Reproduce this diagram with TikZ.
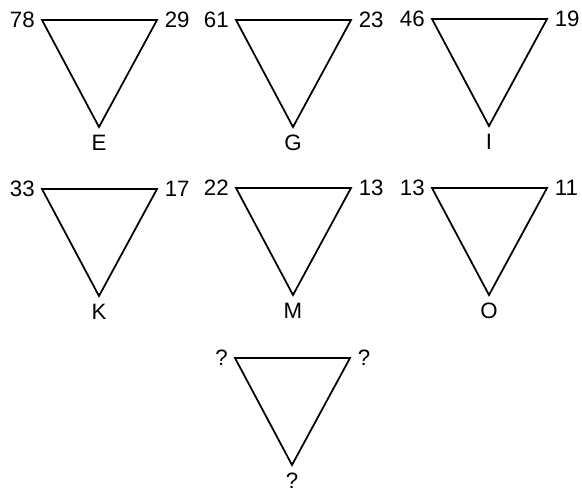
\documentclass[tikz,border=0pt]{standalone}
\usepackage{fontspec}
\setmainfont{Liberation Sans}
\usetikzlibrary{positioning}
\tikzset{
    % --- Triangle outline ---
    tri/.style = {
        draw, line width=1.5pt, line join=miter
    },
    % --- Number at a top corner ---
    corner/.style = {
        font=\fontsize{19}{22}\selectfont, inner sep=0pt
    },
    % --- Letter under the bottom corner ---
    letter/.style = {
        font=\fontsize{19}{22}\selectfont, inner sep=0pt
    }
}

\begin{document}
\begin{tikzpicture}[x=0.03cm, y=-0.03cm]

\useasboundingbox (0,0) rectangle (582,494);

% ---------------------------------------------------------
% Triangles: name / left x / top y / left no. / right no. / letter
% ---------------------------------------------------------
\foreach \tname/\px/\py/\lft/\rgt/\btm in {
    E/42/20/78/29/E, G/236/20/61/23/G, I/432/19/46/19/I,
    K/42/189/33/17/K, M/236/188/22/13/M, O/432/188/13/11/O,
    Q/235/358/?/?/?}
{
    \coordinate (\tname-l) at (\px, \py);
    \coordinate (\tname-r) at (\px+115, \py);
    \coordinate (\tname-b) at (\px+57, \py+107);
    \draw[tri] (\tname-l) -- (\tname-r) -- (\tname-b) -- cycle;
    \node[corner, left=6pt of \tname-l] (\tname-ln) {\lft};
    \node[corner, right=6.5pt of \tname-r] (\tname-rn) {\rgt};
    \node[letter, below=7pt of \tname-b] (\tname-bn) {\btm};
}

\end{tikzpicture}
\end{document}
